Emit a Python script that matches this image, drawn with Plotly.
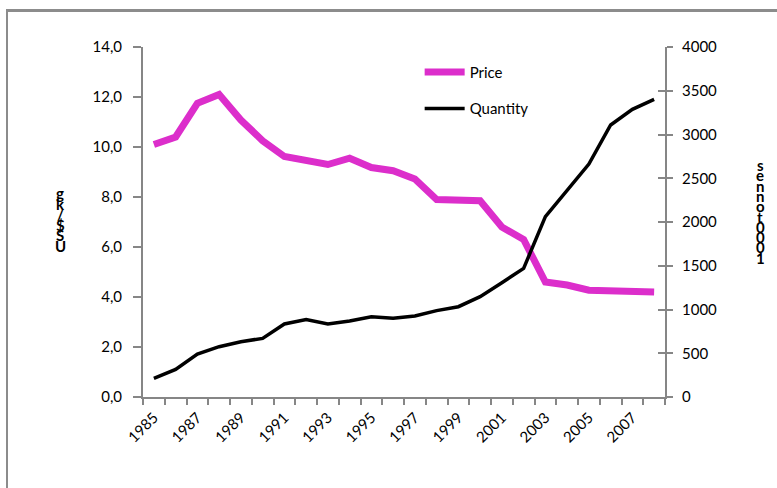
import plotly.graph_objects as go

years = list(range(1985, 2009))
price = [10.1, 10.4, 11.75, 12.1, 11.08, 10.25, 9.62, 9.45, 9.3, 9.55, 9.18, 9.05, 8.72,
         7.9, 7.9, 7.85, 6.8, 6.3, 4.6, 4.48, 4.27, 4.27, 4.26, 4.2]
quantity = [213, 316, 491, 575, 632, 670, 834, 885, 834, 869, 918, 899, 926,
            987, 1032, 1147, 1306, 1470, 2061, 2366, 2663, 3109, 3288, 3402]
left_title = "US$/kg"
right_title = "1000tonnes"

FONT = "Lato, 'Open Sans', sans-serif"
AX = "#868686"

fig = go.Figure()
fig.add_trace(go.Scatter(x=years, y=price, name="Price", mode="lines",
                         line=dict(color="#DC2ECB", width=7), legendgroup="a"))
fig.add_trace(go.Scatter(x=years, y=quantity, name="Quantity", mode="lines",
                         line=dict(color="#000000", width=3.5), yaxis="y2", legendgroup="b"))

fig.update_layout(
    width=777, height=488,
    margin=dict(l=143, r=112, t=47, b=91),
    paper_bgcolor="white", plot_bgcolor="white",
    separators=",.",
    font=dict(family=FONT, size=15, color="#000"),
    showlegend=True,
    legend=dict(x=0.53, y=0.975, xanchor="left", yanchor="top",
                bgcolor="rgba(0,0,0,0)", tracegroupgap=14, traceorder="grouped",
                font=dict(size=15), itemwidth=40),
    xaxis=dict(range=[1984.5, 2008.5], tickmode="array",
               tickvals=years[::2], ticktext=[str(y) for y in years[::2]],
               tickangle=-45, ticks="", showline=True, linecolor=AX, linewidth=2,
               showgrid=False, zeroline=False, tickfont=dict(size=15), ticklabelstandoff=4,
               minor=dict(tickmode="array", tickvals=[y - 0.5 for y in years] + [2008.5],
                          ticks="outside", ticklen=6, tickcolor=AX, tickwidth=2)),
    yaxis=dict(range=[0, 14], dtick=2, tickformat=".1f", showline=True, linecolor=AX,
               linewidth=2, ticks="outside", ticklen=8, tickcolor=AX, tickwidth=2,
               showgrid=False, zeroline=False, ticklabelstandoff=8),
    yaxis2=dict(range=[0, 4000], dtick=500, overlaying="y", side="right", showline=True,
                linecolor=AX, linewidth=2, ticks="outside", ticklen=6, tickcolor=AX,
                tickwidth=2, showgrid=False, zeroline=False, ticklabelstandoff=6),
    yaxis3=dict(range=[0, 4000], dtick=500, overlaying="y", side="right", showline=False,
                ticks="inside", ticklen=7, tickcolor=AX, tickwidth=2, showticklabels=False,
                showgrid=False, zeroline=False, anchor="x"),
)
# dummy trace to activate yaxis3
fig.add_trace(go.Scatter(x=[years[0]], y=[quantity[0]], yaxis="y3", mode="lines",
                         showlegend=False, hoverinfo="skip", line=dict(width=0)))

def px2paper_x(px):
    return (px - 143) / 522

def px2paper_y(py):
    return (397 - py) / 350

# stacked, reversed axis titles (as rendered in the original)
for i, ch in enumerate(reversed(left_title)):
    fig.add_annotation(x=px2paper_x(60), y=px2paper_y(193 + i * 10.5), xref="paper", yref="paper",
                       text="<b>%s</b>" % ch, showarrow=False, font=dict(size=15, family=FONT),
                       xanchor="center", yanchor="middle")
for i, ch in enumerate(reversed(right_title)):
    fig.add_annotation(x=px2paper_x(760), y=px2paper_y(165 + i * 10.3), xref="paper", yref="paper",
                       text="<b>%s</b>" % ch, showarrow=False, font=dict(size=15, family=FONT),
                       xanchor="center", yanchor="middle")

# outer frame (left & top edges visible)
fig.add_shape(type="rect", xref="paper", yref="paper",
              x0=px2paper_x(6), x1=px2paper_x(8), y0=px2paper_y(488), y1=px2paper_y(9),
              line=dict(width=0), fillcolor="#8C8C8C", layer="above")

post = """
document.documentElement.style.margin='0';
document.body.style.margin='0';
document.body.style.padding='0';
var fr = document.createElement('div');
fr.style.position='absolute'; fr.style.left='6px'; fr.style.top='9px';
fr.style.width='800px'; fr.style.height='3px'; fr.style.background='#8C8C8C';
fr.style.pointerEvents='none'; fr.style.zIndex='1000';
document.body.appendChild(fr);
"""
fig.write_html("out.html", config={"displayModeBar": False}, post_script=post)
